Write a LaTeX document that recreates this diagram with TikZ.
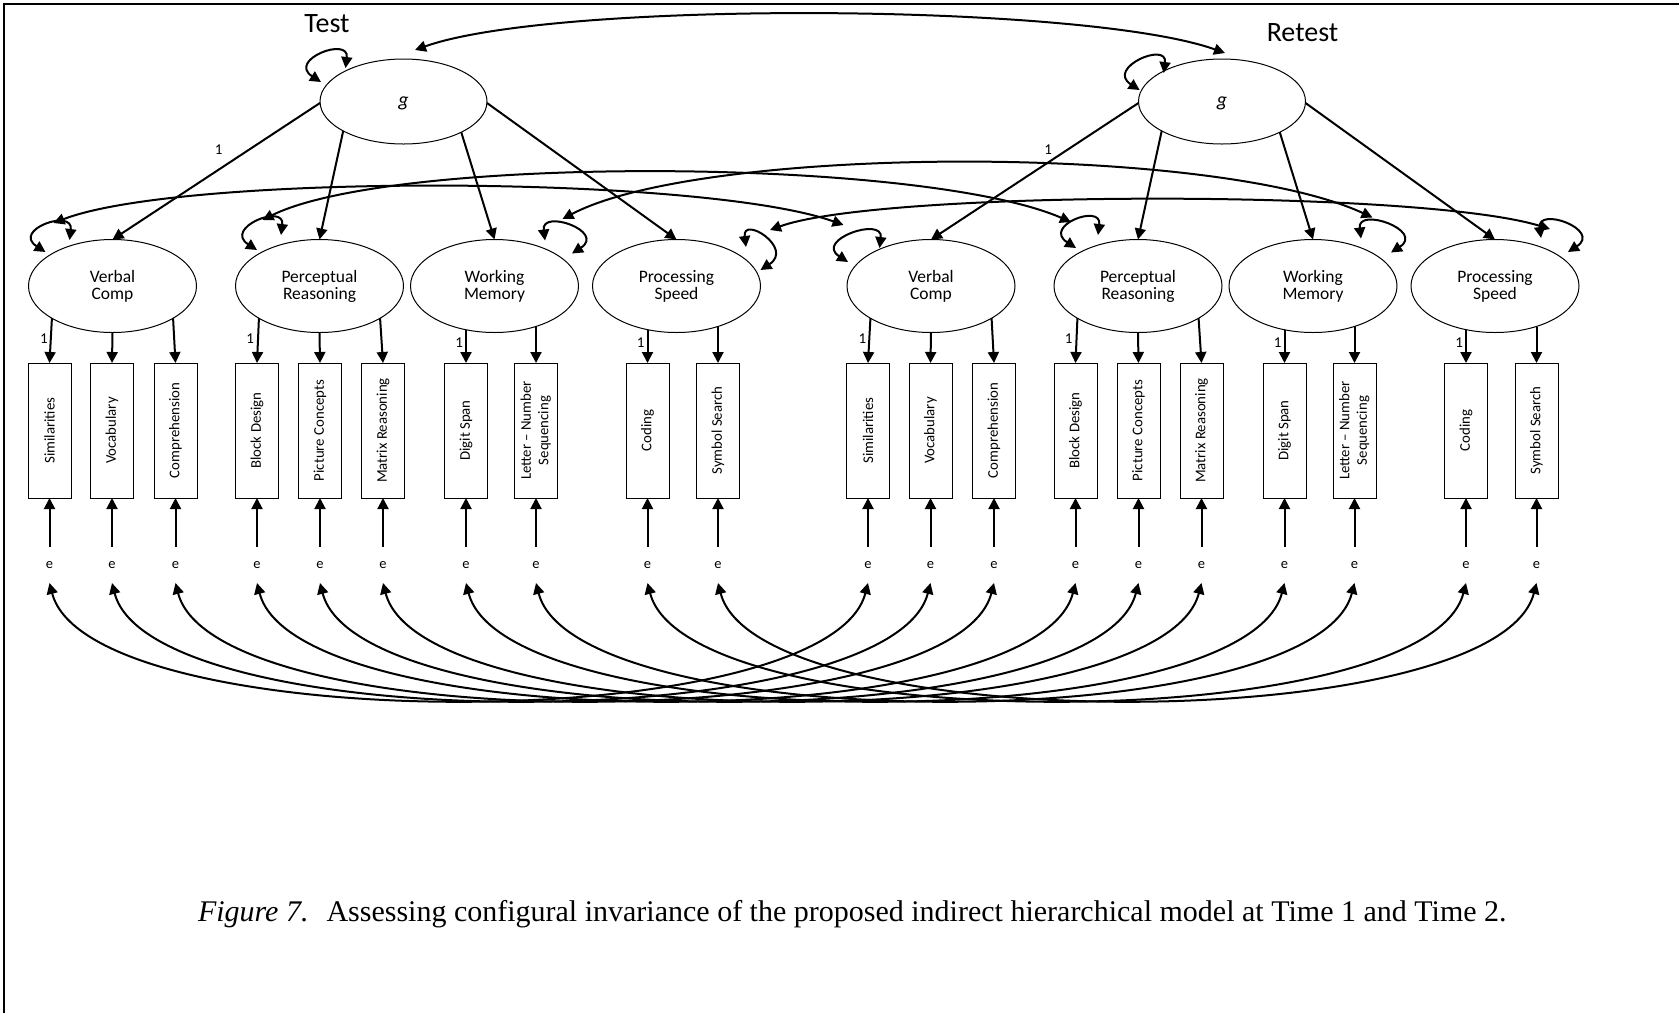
\documentclass[tikz,border=0pt]{standalone}
\usepackage{fontspec}
\setmainfont{Carlito}
\newfontfamily\captionserif{Liberation Serif}
\usetikzlibrary{arrows.meta,shapes.geometric,calc}
% variance loops: left-hand loop (lower end, upper end), right-hand loop (upper end, lower end)
\newcommand\leftloop[5]{\draw[cov] ($(#1)+(#2,#3)$) .. controls +(-34,-22) and +(4,-32) .. ($(#1)+(#4,#5)$);}
\newcommand\rightloop[5]{\draw[cov] ($(#1)+(#2,#3)$) .. controls +(-4,-32) and +(34,-22) .. ($(#1)+(#4,#5)$);}
\begin{document}
\begin{tikzpicture}[x=1pt,y=-1pt,
  every node/.style={inner sep=0pt,outer sep=0pt},
  latent/.style={ellipse,draw,line width=1pt,minimum width=168pt,minimum height=93pt,align=center,font=\fontsize{17.5}{17}\selectfont},
  gnode/.style={ellipse,draw,line width=1pt,minimum width=167pt,minimum height=85pt,text depth=0pt,font=\fontsize{20}{22}\selectfont\itshape},
  obs/.style={rectangle,draw,line width=1pt,minimum width=43pt,minimum height=135pt,font=\fontsize{14.8}{17.5}\selectfont},
  err/.style={minimum height=36pt,font=\fontsize{14.5}{16}\selectfont},
  one/.style={font=\fontsize{15}{16}\selectfont},
  occasion/.style={font=\fontsize{28}{30}\selectfont,anchor=base},
  reg/.style={line width=2pt,-{Triangle[length=11pt,width=11pt]}},
  cov/.style={line width=2pt,{Triangle[length=11pt,width=11pt]}-{Triangle[length=11pt,width=11pt]}},
]
\useasboundingbox (0,0) rectangle (1679,1013);
\draw[line width=2.5pt] (4,1013) -- (4,4) -- (1679,4);

% occasion labels and second-order factors
\node[occasion] (test) at (327,32.3) {Test};
\node[occasion] (retest) at (1302.5,41.7) {Retest};
\node[gnode] (g1) at (403.5,101.5) {g};
\node[gnode] (g2) at (1222,101.5) {g};

% one measurement occasion per pass
\foreach \s/\t/\lo in {0/1/26,818.5/2/15}{
\begin{scope}[xshift=\s pt]
  \node[latent] (vc\t) at (112.5,286) {Verbal\\Comp};
  \node[latent] (pr\t) at (319.5,286) {Perceptual\\Reasoning};
  \node[latent] (wm\t) at (494.5,286) {Working\\Memory};
  \node[latent] (ps\t) at (676.5,286) {Processing\\Speed};

  \node[obs] (sim\t)  at (49.5,430.5) {\rotatebox{90}{Similarities}};
  \node[obs] (voc\t)  at (112,430.5)  {\rotatebox{90}{Vocabulary}};
  \node[obs] (comp\t) at (175.5,430.5){\rotatebox{90}{Comprehension}};
  \node[obs] (bd\t)   at (257,430.5)  {\rotatebox{90}{Block Design}};
  \node[obs] (pc\t)   at (320,430.5)  {\rotatebox{90}{Picture Concepts}};
  \node[obs] (mr\t)   at (383,430.5)  {\rotatebox{90}{Matrix Reasoning}};
  \node[obs] (ds\t)   at (466,430.5)  {\rotatebox{90}{Digit Span}};
  \node[obs] (lns\t)  at (536,430.5)  {\rotatebox{90}{\begin{tabular}{@{}c@{}}Letter – Number\\Sequencing\end{tabular}}};
  \node[obs] (cod\t)  at (647.5,430.5){\rotatebox{90}{Coding}};
  \node[obs] (ss\t)   at (718,430.5)  {\rotatebox{90}{Symbol Search}};

  \foreach \n/\x in {sim/49.5,voc/112,comp/175.5,bd/257,pc/320,mr/383,ds/466,lns/536,cod/647.5,ss/718}{
    \node[err] (e\n\t) at (\x,565) {e};
    \draw[reg] (e\n\t.north) -- (\n\t.south);
  }
\end{scope}

  % g to first-order factors
  \draw[reg] (g\t.181) -- node[one,pos=.345,left=\lo pt] (lg\t) {1} (vc\t.north);
  \draw[reg] (g\t.206.8) -- (pr\t.north);
  \draw[reg] (g\t.332.9) -- (wm\t.north);
  \draw[reg] (g\t.359) -- (ps\t.north);

  % factor loadings
  \draw[reg] (vc\t.208) -- node[one,pos=.45,left=3pt] (lsim\t) {1} (sim\t.north);
  \draw[reg] (vc\t.south) -- (voc\t.north);
  \draw[reg] (vc\t.332) -- (comp\t.north);
  \draw[reg] (pr\t.208) -- node[one,pos=.45,left=4pt] (lbd\t) {1} (bd\t.north);
  \draw[reg] (pr\t.south) -- (pc\t.north);
  \draw[reg] (pr\t.332) -- (mr\t.north);
  \draw[reg] (ds\t.north |- wm\t.237) -- node[one,pos=.38,left=3pt] (lds\t) {1} (ds\t.north);
  \draw[reg] (lns\t.north |- wm\t.316) -- (lns\t.north);
  \draw[reg] (cod\t.north |- ps\t.237) -- node[one,pos=.4,left=3pt] (lcod\t) {1} (cod\t.north);
  \draw[reg] (ss\t.north |- ps\t.315) -- (ss\t.north);
}

% variances
\leftloop{g1}{-82.5}{-19.5}{-58}{-33.5}
\leftloop{g2}{-82.4}{-11.5}{-58.3}{-28.5}
\leftloop{vc1}{-67}{-34}{-43}{-46}
\leftloop{pr1}{-62.5}{-36}{-38.5}{-51}
\rightloop{wm1}{50.5}{-45.5}{77.5}{-32.5}
\rightloop{ps1}{69.5}{-39}{84}{-16}
\leftloop{vc2}{-83}{-24}{-51.5}{-38}
\leftloop{pr2}{-62}{-38}{-40}{-51}
\rightloop{wm2}{48}{-47.5}{78}{-33.5}
\rightloop{ps2}{46}{-48}{73}{-34}

% test-retest covariances of the factors
\coordinate (g1c) at ($(g1)+(11.5,-51.5)$);
\coordinate (g2c) at ($(g2)+(3,-48.5)$);
\coordinate (vc1c) at ($(vc1)+(-59,-63)$);
\coordinate (vc2c) at ($(vc2)+(-87.5,-61)$);
\coordinate (pr1c) at ($(pr1)+(-57,-66)$);
\coordinate (pr2c) at ($(pr2)+(-67,-64)$);
\coordinate (wm1c) at ($(wm1)+(68,-67)$);
\coordinate (wm2c) at ($(wm2)+(59.5,-68.5)$);
\coordinate (ps1c) at ($(ps1)+(93.5,-56)$);
\coordinate (ps2c) at ($(ps2)+(55,-57)$);
\draw[cov] (g1c) .. controls +(140,-50) and +(-140,-50) .. (g2c);
\draw[cov] (vc1c) .. controls +(130,-50) and +(-140,-50) .. (vc2c);
\draw[cov] (pr1c) .. controls +(130,-65) and +(-150,-65) .. (pr2c);
\draw[cov] (wm1c) .. controls +(140,-74) and +(-160,-74) .. (wm2c);
\draw[cov] (ps1c) .. controls +(110,-40) and +(-130,-40) .. (ps2c);

% test-retest covariances of the residuals
\foreach \n in {sim,voc,comp,bd,pc,mr,ds,lns,cod,ss}
  \draw[cov] (e\n1.south) .. controls +(40,155) and +(-40,155) .. (e\n2.south);

\node[anchor=base west,font=\captionserif\fontsize{30}{32}\selectfont] (caption) at (198,921)
  {\textit{Figure 7.}\hspace*{18pt}Assessing configural invariance of the proposed indirect hierarchical model at Time 1 and Time 2.};
\end{tikzpicture}
\end{document}
